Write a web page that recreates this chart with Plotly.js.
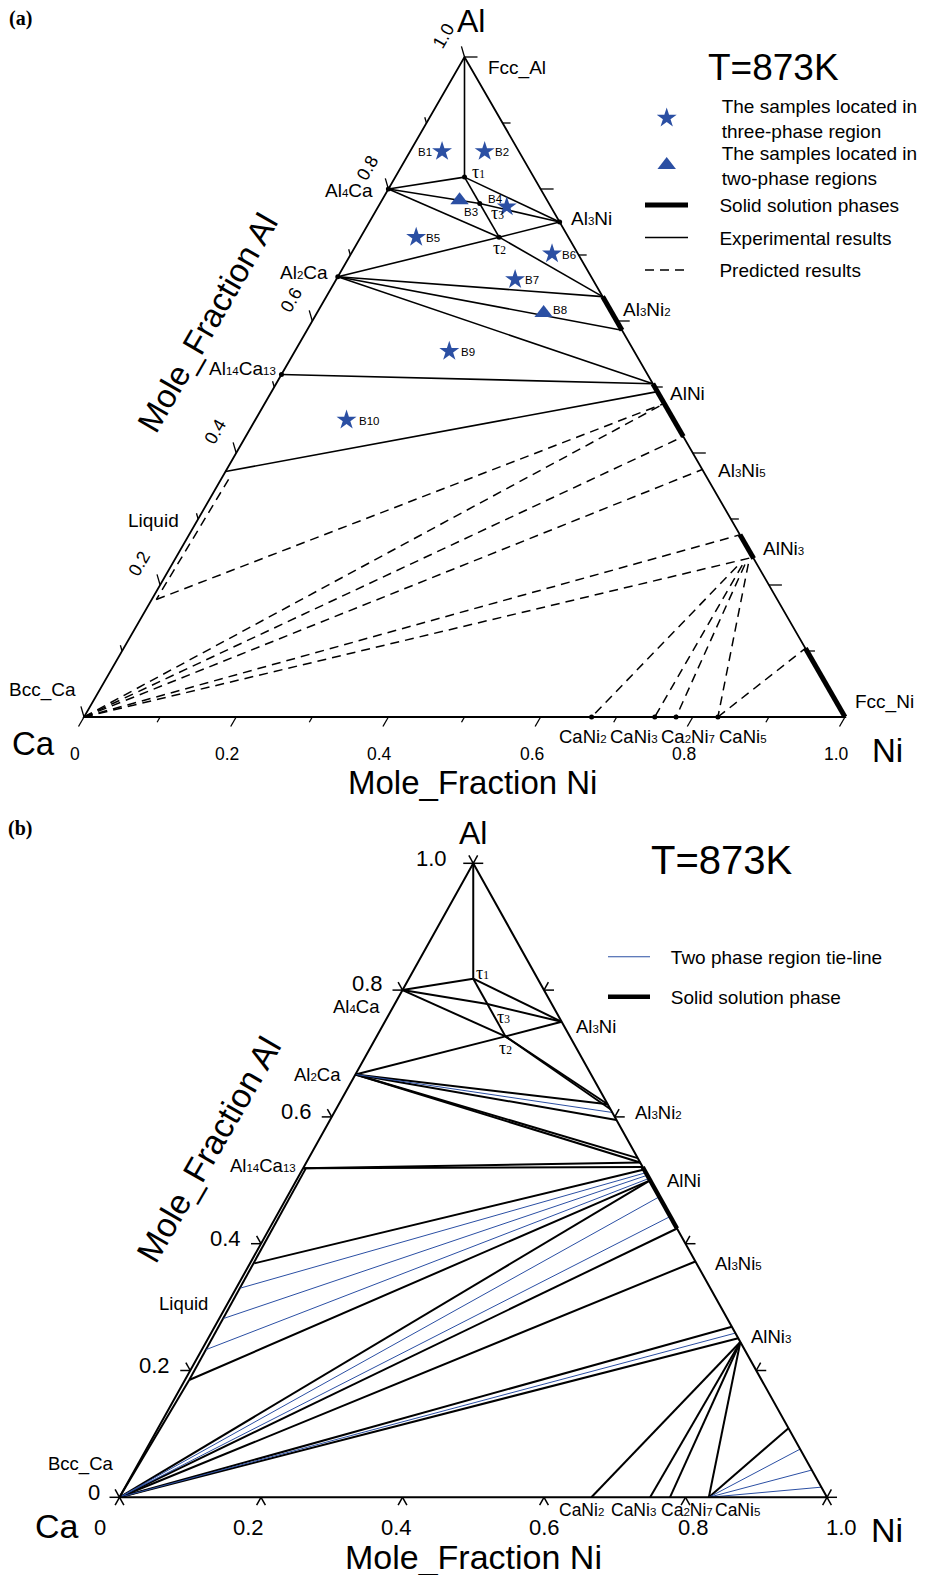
<!DOCTYPE html>
<html>
<head>
<meta charset="utf-8">
<title>Al–Ca–Ni isothermal section at 873 K</title>
<script src="https://cdn.plot.ly/plotly-3.0.1.min.js"></script>
<style>
  html, body { margin: 0; padding: 0; background: #fff; }
  #fig { width: 934px; height: 1575px; }
</style>
</head>
<body>
<div id="fig"></div>
<script>
// ---------------------------------------------------------------
// Compositions are [x_Al, x_Ni] mole fractions; x_Ca = 1 - x_Al - x_Ni
// ---------------------------------------------------------------
const onAlNi = al => [al, +(1 - al).toFixed(4)];   // point on the Al–Ni binary edge

const FCC_AL   = [1.000, 0.000];
const AL4CA    = [0.800, 0.000];
const AL2CA    = [0.667, 0.000];
const AL14CA13 = [0.519, 0.000];
const BCC_CA   = [0.000, 0.000];
const FCC_NI   = [0.000, 1.000];
const TAU1     = [0.818, 0.091];
const TAU2     = [0.727, 0.182];
const TAU3     = [0.778, 0.131];
const AL3NI    = [0.750, 0.250];
const CANI2    = [0.000, 0.667];
const CANI3    = [0.000, 0.750];
const CA2NI7   = [0.000, 0.778];
const CANI5    = [0.000, 0.833];

// ---- (a) measured section ----
// solid-solution ranges along Al–Ni, x_Al from / to (Al3Ni2, AlNi, AlNi3, Fcc_Ni)
const ssRangeA = [[0.637, 0.586], [0.505, 0.425], [0.276, 0.240], [0.104, 0.000]];

const expLinesA = [
  [FCC_AL, TAU1], [TAU1, AL4CA], [TAU1, AL3NI], [TAU1, TAU3], [TAU3, TAU2],
  [AL4CA, TAU3], [TAU3, AL3NI], [AL4CA, TAU2], [TAU2, onAlNi(0.637)],
  [AL2CA, TAU2], [TAU2, AL3NI],
  [AL2CA, onAlNi(0.637)], [AL2CA, onAlNi(0.586)], [AL2CA, onAlNi(0.505)],
  [AL14CA13, onAlNi(0.505)], [[0.372, 0.000], onAlNi(0.493)]
];

const LIQ_A_TOP = [0.360, 0.010];
const LIQ_A_LOW = [0.178, 0.006];
const predLinesA = [
  [LIQ_A_TOP, LIQ_A_LOW], [LIQ_A_LOW, onAlNi(0.475)],
  [BCC_CA, onAlNi(0.475)], [BCC_CA, onAlNi(0.425)], [BCC_CA, onAlNi(0.375)],
  [BCC_CA, onAlNi(0.276)], [BCC_CA, onAlNi(0.242)],
  [[0.228, 0.744], CANI2], [[0.230, 0.750], CANI3], [[0.231, 0.753], CA2NI7], [[0.232, 0.757], CANI5],
  [CANI5, onAlNi(0.104)]
];

const dotsA = [TAU1, TAU2, TAU3, AL4CA, AL2CA, AL14CA13, AL3NI, CANI2, CANI3, CA2NI7, CANI5];

// alloy samples
const starLabels = ['B1', 'B2', 'B4', 'B5', 'B6', 'B7', 'B9', 'B10'];
const starAl     = [0.857, 0.857, 0.773, 0.727, 0.702, 0.663, 0.554, 0.450];
const starNi     = [0.042, 0.098, 0.169, 0.073, 0.264, 0.235, 0.203, 0.120];
const triLabels  = ['B3', 'B8'];
const triAl      = [0.783, 0.612];
const triNi      = [0.102, 0.298];

// ---- (b) calculated section ----
const ssRangeB = [[0.521, 0.424]];

const LIQ_B_TOP = [0.518, 0.004];
const LIQ_B_LOW = [0.185, 0.006];
const blackLinesB = [
  [FCC_AL, TAU1], [TAU1, AL4CA], [TAU1, AL3NI], [TAU1, TAU3], [TAU3, TAU2],
  [AL4CA, TAU3], [TAU3, AL3NI], [AL4CA, TAU2], [TAU2, onAlNi(0.620)], [TAU2, onAlNi(0.612)],
  [AL2CA, TAU2], [TAU2, AL3NI],
  [AL2CA, onAlNi(0.620)], [AL2CA, onAlNi(0.595)],
  [AL2CA, onAlNi(0.535)], [AL2CA, onAlNi(0.528)],
  [AL14CA13, onAlNi(0.528)], [AL14CA13, onAlNi(0.521)],
  [LIQ_B_TOP, LIQ_B_LOW], [LIQ_B_LOW, BCC_CA],
  [[0.369, 0.006], onAlNi(0.517)], [LIQ_B_LOW, onAlNi(0.500)],
  [BCC_CA, onAlNi(0.500)], [BCC_CA, onAlNi(0.424)], [BCC_CA, onAlNi(0.372)],
  [BCC_CA, onAlNi(0.269)], [BCC_CA, onAlNi(0.251)],
  [onAlNi(0.245), CANI2], [onAlNi(0.245), CANI3], [onAlNi(0.245), CA2NI7], [onAlNi(0.245), CANI5],
  [CANI5, onAlNi(0.109)]
];
const blueLinesB = [
  [AL2CA, onAlNi(0.607)],
  [[0.330, 0.006], onAlNi(0.512)], [[0.282, 0.006], onAlNi(0.508)], [[0.233, 0.006], onAlNi(0.503)],
  [BCC_CA, onAlNi(0.474)], [BCC_CA, onAlNi(0.443)], [BCC_CA, onAlNi(0.259)],
  [CANI5, onAlNi(0.076)], [CANI5, onAlNi(0.043)], [CANI5, onAlNi(0.016)]
];

// axis ticks and tick labels (mole fractions)
const minorTicks = [0, 0.1, 0.2, 0.3, 0.4, 0.5, 0.6, 0.7, 0.8, 0.9, 1.0];
const majorTicks = [0, 0.2, 0.4, 0.6, 0.8, 1.0];
const tickText   = ['0', '0.2', '0.4', '0.6', '0.8', '1.0'];

// chemical formulas: index digits set small on the baseline
const idx = n => '<span style="font-size:11.5px">' + n + '</span>';

// phase names and the compositions they mark
const phaseText = ['Fcc_Al', 'Al' + idx(4) + 'Ca', 'Al' + idx(2) + 'Ca', 'Al' + idx(14) + 'Ca' + idx(13), 'Liquid', 'Bcc_Ca',
                   'Al' + idx(3) + 'Ni', 'Al' + idx(3) + 'Ni' + idx(2), 'AlNi', 'Al' + idx(3) + 'Ni' + idx(5),
                   'AlNi' + idx(3), 'Fcc_Ni'];
const phaseComp = [FCC_AL, AL4CA, AL2CA, AL14CA13, [0.3, 0], BCC_CA,
                   AL3NI, onAlNi(0.6), onAlNi(0.5), onAlNi(0.375), onAlNi(0.25), FCC_NI];
const binText = ['CaNi' + idx(2), 'CaNi' + idx(3), 'Ca' + idx(2) + 'Ni' + idx(7), 'CaNi' + idx(5)];
const binComp = [CANI2, CANI3, CA2NI7, CANI5];
const tauText = ['τ' + idx(1), 'τ' + idx(3), 'τ' + idx(2)];
const tauComp = [TAU1, TAU3, TAU2];

// ---------------------------------------------------------------
// Drawing set-up
// ---------------------------------------------------------------
const FIG_W = 934, FIG_H = 1575, SPLIT = 800;
const FONT = 'Arial, "Liberation Sans", Helvetica, sans-serif';
const SERIF = '"Times New Roman", "Liberation Serif", serif';
const BLUE = '#2b4fa3';

const PANEL_A = { xa: 'x',  ya: 'y',  px0: 84,    px1: 845, py0: 717,    py1: 57,    top: 0,     bottom: SPLIT };
const PANEL_B = { xa: 'x2', ya: 'y2', px0: 119.5, px1: 827, py0: 1497.3, py1: 863.3, top: SPLIT, bottom: FIG_H };
[PANEL_A, PANEL_B].forEach(P => { P.sx = P.px1 - P.px0; P.sy = P.py0 - P.py1; });

// composition -> plane coordinates of the Gibbs triangle
const cx = c => c[1] + c[0] / 2;
const cy = c => c[0];

function axisPair(P) {
  const hidden = { visible: false, showgrid: false, zeroline: false, fixedrange: true };
  return [
    Object.assign({ domain: [0, 1], range: [-P.px0 / P.sx, (FIG_W - P.px0) / P.sx], anchor: P.ya }, hidden),
    Object.assign({ domain: [1 - P.bottom / FIG_H, 1 - P.top / FIG_H],
                    range: [(P.py0 - P.bottom) / P.sy, (P.py0 - P.top) / P.sy], anchor: P.xa }, hidden)
  ];
}

function segments(P, pairs) {
  const x = [], y = [];
  pairs.forEach(([p, q]) => { x.push(cx(p), cx(q), null); y.push(cy(p), cy(q), null); });
  return { type: 'scatter', mode: 'lines', x, y, xaxis: P.xa, yaxis: P.ya, hoverinfo: 'skip', showlegend: false };
}
function edgeSegments(P, ranges) {
  return segments(P, ranges.map(r => [onAlNi(r[0]), onAlNi(r[1])]));
}

// screen unit vector of a direction given in triangle-plane units
function dirOf(P, dX, dY) {
  const vx = dX * P.sx, vy = -dY * P.sy, n = Math.hypot(vx, vy);
  return [vx / n, vy / n];
}
function tick(P, c, dir, len, w) {
  const n = Math.hypot(dir[0], dir[1]);
  return { type: 'line', xref: P.xa, yref: P.ya, x0: cx(c), y0: cy(c),
           x1: cx(c) + dir[0] / n * len / P.sx, y1: cy(c) - dir[1] / n * len / P.sy,
           line: { color: '#000', width: w } };
}
function frame(P, w) {
  const path = 'M' + [BCC_CA, FCC_NI, FCC_AL].map(c => cx(c) + ',' + cy(c)).join('L') + 'Z';
  return { type: 'path', xref: P.xa, yref: P.ya, path, line: { color: '#000', width: w } };
}
function note(P, c, text, o) {
  return Object.assign({ xref: P.xa, yref: P.ya, x: cx(c), y: cy(c), text, showarrow: false,
    xanchor: 'center', yanchor: 'middle', font: { family: FONT, size: 19, color: '#000' } }, o);
}
function paperNote(px, py, text, o) {
  return Object.assign({ xref: 'paper', yref: 'paper', x: px / FIG_W, y: 1 - py / FIG_H, text,
    showarrow: false, xanchor: 'center', yanchor: 'middle', font: { family: FONT, size: 19, color: '#000' } }, o);
}
const shift = (dx, dy) => ({ xshift: dx, yshift: -dy });
const pad = n => '\u00a0'.repeat(n);

const traces = [];
const shapes = [];
const annotations = [];

// ================= panel (a) =================
traces.push(Object.assign(edgeSegments(PANEL_A, ssRangeA), {
  name: pad(5) + 'Solid solution phases', showlegend: true, legend: 'legend3', legendgroup: 'ss',
  line: { color: '#000', width: 5 } }));
traces.push(Object.assign(segments(PANEL_A, expLinesA), {
  name: pad(5) + 'Experimental results', showlegend: true, legend: 'legend3', legendgroup: 'exp',
  line: { color: '#000', width: 1.6 } }));
traces.push(Object.assign(segments(PANEL_A, predLinesA), {
  name: pad(5) + 'Predicted results', showlegend: true, legend: 'legend3', legendgroup: 'pred',
  line: { color: '#000', width: 1.5, dash: '9px,6px' } }));
traces.push({ type: 'scatter', mode: 'markers', x: dotsA.map(cx), y: dotsA.map(cy),
  xaxis: 'x', yaxis: 'y', hoverinfo: 'skip', showlegend: false,
  marker: { color: '#000', size: 5 } });
traces.push({ type: 'scatter', mode: 'markers', name: 'The samples located in<br>three-phase region',
  x: starAl.map((a, i) => cx([a, starNi[i]])), y: starAl, xaxis: 'x', yaxis: 'y',
  legend: 'legend', hoverinfo: 'skip',
  marker: { symbol: 'star', size: 15, color: BLUE, line: { width: 0 } } });
traces.push({ type: 'scatter', mode: 'markers', name: 'The samples located in<br>two-phase regions',
  x: triAl.map((a, i) => cx([a, triNi[i]])), y: triAl, xaxis: 'x', yaxis: 'y',
  legend: 'legend2', hoverinfo: 'skip',
  marker: { symbol: 'triangle-up', size: 16, color: BLUE, line: { width: 0 } } });

shapes.push(frame(PANEL_A, 1.8));
{
  const P = PANEL_A;
  const leftDir = [-0.28, -0.96], bottomDir = dirOf(P, -0.5, -1), rightDir = [1, 0];
  minorTicks.forEach((v, i) => {
    const major = i % 2 === 0;
    shapes.push(tick(P, [v, 0], leftDir, major ? 11 : 6, 1.3));
    shapes.push(tick(P, [0, v], bottomDir, major ? 11 : 6, 1.3));
    if (v > 0) shapes.push(tick(P, onAlNi(v), rightDir, major ? 13 : 8, 1.3));
  });
  majorTicks.forEach((v, i) => {
    if (v > 0) annotations.push(note(P, [v, 0], tickText[i],
      Object.assign({ textangle: -60, font: { family: FONT, size: 18, color: '#000' } }, shift(-21, -21))));
    annotations.push(note(P, [0, v], tickText[i],
      Object.assign({ font: { family: FONT, size: 17.5, color: '#000' } }, shift(-9, 37))));
  });

  // phase labels: [anchor, dx, dy] screen offsets
  const place = [['left', 21, 11], ['right', -13, 1], ['right', -8, -4], ['right', -3, -6], ['right', -17, 1],
                 ['right', -6, -27], ['left', 9, -4], ['left', 4, -12], ['left', 13, 6], ['left', 14, 1],
                 ['left', 11, -4], ['left', 8, -15]];
  phaseText.forEach((t, i) => annotations.push(note(P, phaseComp[i], t,
    Object.assign({ xanchor: place[i][0] }, shift(place[i][1], place[i][2])))));
  const binDx = [-9, -21, 12, 25];
  binText.forEach((t, i) => annotations.push(note(P, binComp[i], t,
    Object.assign({ font: { family: FONT, size: 18.5, color: '#000' } }, shift(binDx[i], 19)))));
  const tauOff = [[13.5, -5.5], [17.5, 9], [0, 11]];
  tauText.forEach((t, i) => annotations.push(note(P, tauComp[i], t,
    Object.assign({ font: { family: SERIF, size: 18, color: '#000' } }, shift(tauOff[i][0], tauOff[i][1])))));

  // sample labels
  const small = { family: FONT, size: 11.5, color: '#000' };
  starLabels.forEach((t, i) => {
    const c = [starAl[i], starNi[i]];
    let o = Object.assign({ xanchor: 'left' }, shift(8, 1));
    if (t === 'B1') o = Object.assign({ xanchor: 'right' }, shift(-8, 1));
    if (t === 'B4') o = shift(-11, -8);
    if (t === 'B9' || t === 'B10') o = Object.assign({ xanchor: 'left' }, shift(10, 1));
    annotations.push(note(P, c, t, Object.assign({ font: small }, o)));
  });
  triLabels.forEach((t, i) => {
    const c = [triAl[i], triNi[i]];
    const o = t === 'B3' ? shift(11, 12) : Object.assign({ xanchor: 'left' }, shift(7, -3));
    annotations.push(note(P, c, t, Object.assign({ font: small }, o)));
  });

  // corner and axis names
  const big = s => ({ family: FONT, size: s, color: '#000' });
  annotations.push(note(P, FCC_AL, 'Al', Object.assign({ font: big(32) }, shift(6, -36))));
  annotations.push(note(P, BCC_CA, 'Ca', Object.assign({ font: big(33) }, shift(-51, 26))));
  annotations.push(note(P, FCC_NI, 'Ni', Object.assign({ font: big(33) }, shift(42, 33))));
  annotations.push(note(P, [0, 0.5], 'Mole_Fraction Ni', Object.assign({ font: big(33) }, shift(8, 65))));
  annotations.push(note(P, [0.6, 0], 'Mole_Fraction Al', Object.assign({ textangle: -60, font: big(33) }, shift(-105, 1))));
}
annotations.push(paperNote(20, 18, '<b>(a)</b>', { font: { family: SERIF, size: 20, color: '#000' } }));
annotations.push(paperNote(773, 67, 'T=873K', { font: { family: FONT, size: 37, color: '#000' } }));

// ================= panel (b) =================
traces.push(Object.assign(segments(PANEL_B, blackLinesB), { line: { color: '#000', width: 2 } }));
traces.push(Object.assign(segments(PANEL_B, blueLinesB), {
  name: pad(3) + 'Two phase region tie-line', showlegend: true, legend: 'legend4', legendgroup: 'tie',
  line: { color: BLUE, width: 1 } }));
traces.push(Object.assign(edgeSegments(PANEL_B, ssRangeB), {
  name: pad(3) + 'Solid solution phase', showlegend: true, legend: 'legend4', legendgroup: 'ss2',
  line: { color: '#000', width: 4.5 } }));

shapes.push(frame(PANEL_B, 2));
{
  const P = PANEL_B;
  const upLeft = dirOf(P, -0.5, 1), upRight = dirOf(P, 0.5, 1);
  const downLeft = dirOf(P, -0.5, -1), downRight = dirOf(P, 0.5, -1);
  majorTicks.forEach((v, i) => {
    shapes.push(tick(P, [v, 0], [-1, 0], 10, 1.5));
    shapes.push(tick(P, [v, 0], upLeft, 9, 1.5));
    shapes.push(tick(P, [0, v], downLeft, 9, 1.5));
    shapes.push(tick(P, [0, v], downRight, 9, 1.5));
    shapes.push(tick(P, onAlNi(v), [1, 0], 10, 1.5));
    shapes.push(tick(P, onAlNi(v), upRight, 9, 1.5));
    const f = { family: FONT, size: 22, color: '#000' };
    annotations.push(note(P, [v, 0], tickText[i],
      Object.assign({ xanchor: 'right', font: f }, shift(v === 1 ? -24 : -18, v === 0.8 ? -7 : -5))));
    annotations.push(note(P, [0, v], tickText[i],
      Object.assign({ font: f }, shift(-19.5 + 34 * v, 30))));
  });

  const place = [null, ['right', -21, 16], ['right', -12, 0], ['right', -5, -3], ['right', -16, -4],
                 ['right', -5, -33], ['left', 12, 5], ['left', 18, -4], ['left', 15, 0], ['left', 19, 4],
                 ['left', 10, -2], null];
  phaseText.forEach((t, i) => {
    if (!place[i]) return;
    annotations.push(note(P, phaseComp[i], t,
      Object.assign({ xanchor: place[i][0], font: { family: FONT, size: 18.5, color: '#000' } },
                    shift(place[i][1], place[i][2]))));
  });
  const binDx = [-10, -17, 17, 29];
  binText.forEach((t, i) => annotations.push(note(P, binComp[i], t,
    Object.assign({ font: { family: FONT, size: 17.5, color: '#000' } }, shift(binDx[i], 13)))));
  const tauOff = [[9.5, -5.5], [16.5, 12.5], [0, 12]];
  tauText.forEach((t, i) => annotations.push(note(P, tauComp[i], t,
    Object.assign({ font: { family: SERIF, size: 18, color: '#000' } }, shift(tauOff[i][0], tauOff[i][1])))));

  const big = s => ({ family: FONT, size: s, color: '#000' });
  annotations.push(note(P, FCC_AL, 'Al', Object.assign({ font: big(32) }, shift(0, -30))));
  annotations.push(note(P, BCC_CA, 'Ca', Object.assign({ font: big(34) }, shift(-63, 29))));
  annotations.push(note(P, FCC_NI, 'Ni', Object.assign({ font: big(34) }, shift(60, 33))));
  annotations.push(note(P, [0, 0.5], 'Mole_Fraction Ni', Object.assign({ font: big(34) }, shift(0, 60))));
  annotations.push(note(P, [0.55, 0], 'Mole_Fraction Al', Object.assign({ textangle: -60, font: big(34) }, shift(-106, 1))));
}
annotations.push(paperNote(20, 828, '<b>(b)</b>', { font: { family: SERIF, size: 20, color: '#000' } }));
annotations.push(paperNote(722, 860, 'T=873K', { font: { family: FONT, size: 40, color: '#000' } }));

// ---------------------------------------------------------------
const [xa, ya] = axisPair(PANEL_A);
const [xb, yb] = axisPair(PANEL_B);
const legendBase = (px, py, extra) => Object.assign({
  x: px / FIG_W, y: 1 - py / FIG_H, xanchor: 'left', yanchor: 'top',
  bgcolor: 'rgba(0,0,0,0)', borderwidth: 0,
  font: { family: FONT, size: 19, color: '#000' }
}, extra);

const layout = {
  width: FIG_W, height: FIG_H,
  margin: { l: 0, r: 0, t: 0, b: 0 },
  paper_bgcolor: '#fff', plot_bgcolor: 'rgba(0,0,0,0)',
  font: { family: FONT, color: '#000' },
  xaxis: xa, yaxis: ya, xaxis2: xb, yaxis2: yb,
  showlegend: true,
  legend:  legendBase(611.7, 86.8, { itemwidth: 100 }),
  legend2: legendBase(611.7, 133.8, { itemwidth: 100 }),
  legend3: legendBase(640, 186.2, { itemwidth: 43, traceorder: 'grouped', tracegroupgap: 4.8 }),
  legend4: legendBase(603, 937.9, { itemwidth: 42, traceorder: 'grouped', tracegroupgap: 12.3 }),
  shapes, annotations
};

Plotly.newPlot('fig', traces, layout, { staticPlot: true, displayModeBar: false });
</script>
</body>
</html>
